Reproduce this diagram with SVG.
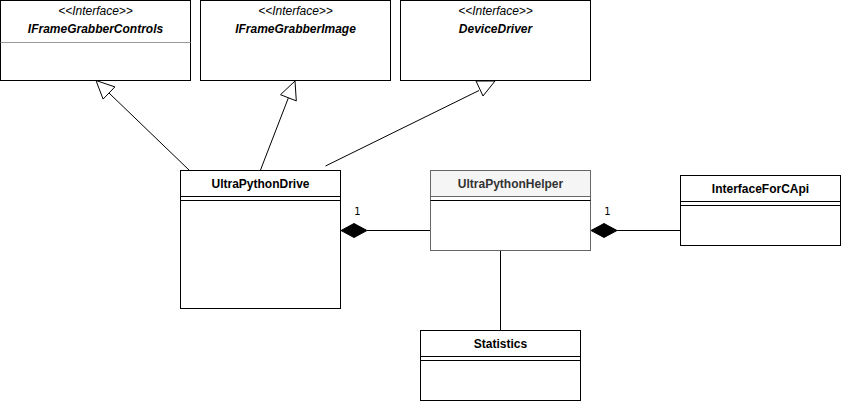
<svg xmlns="http://www.w3.org/2000/svg" width="841" height="401" viewBox="0 0 841 401">
<style>
.box{fill:#ffffff;stroke:#000000;stroke-width:1}
.ln{stroke:#000000;stroke-width:1;fill:none}
.t{font-family:"Liberation Sans",Arial,sans-serif;font-size:12px;text-anchor:middle;fill:#000000}
.b{font-weight:bold}
.i{font-style:italic}
.m{font-family:"DejaVu Sans","Liberation Sans",sans-serif;font-size:10px;text-anchor:middle;fill:#000000}
.open{fill:#ffffff;stroke:#000000;stroke-width:1}
.dia{fill:#000000;stroke:#000000;stroke-width:1}
</style>
<rect width="841" height="401" fill="#ffffff"/>
<g id="connectors">
  <line class="ln" x1="189" y1="170" x2="109" y2="93"/>
  <polygon class="open" points="96,80.5 114.9,86.9 103.1,99.1"/>
  <line class="ln" x1="260.5" y1="170" x2="288.4" y2="97.8"/>
  <polygon class="open" points="295,81 280.5,94.7 296.3,100.9"/>
  <line class="ln" x1="325.5" y1="166" x2="479" y2="90.5"/>
  <polygon class="open" points="476,81 495,81 483,96"/>
  <line class="ln" x1="367" y1="230.5" x2="430" y2="230.5"/>
  <polygon class="dia" points="341,230.5 354,223.5 367,230.5 354,237.5"/>
  <text class="m" x="357.5" y="215">1</text>
  <line class="ln" x1="617" y1="230.5" x2="680" y2="230.5"/>
  <polygon class="dia" points="591,230.5 604,223.5 617,230.5 604,237.5"/>
  <text class="m" x="607.5" y="215">1</text>
  <line class="ln" x1="500.5" y1="250.5" x2="500.5" y2="330.5"/>
</g>
<g id="IFrameGrabberControls">
  <rect class="box" x="0.5" y="0.5" width="190" height="80"/>
  <line x1="0.5" y1="42.5" x2="190.5" y2="42.5" stroke="#999999" stroke-width="1"/>
  <text class="t i" x="95.5" y="15">&lt;&lt;Interface&gt;&gt;</text>
  <text class="t b i" x="95.5" y="33">IFrameGrabberControls</text>
</g>
<g id="IFrameGrabberImage">
  <rect class="box" x="200.5" y="0.5" width="190" height="80"/>
  <text class="t i" x="295.5" y="15">&lt;&lt;Interface&gt;&gt;</text>
  <text class="t b i" x="295.5" y="33">IFrameGrabberImage</text>
</g>
<g id="DeviceDriver">
  <rect class="box" x="400.5" y="0.5" width="190" height="80"/>
  <text class="t i" x="495.5" y="15">&lt;&lt;Interface&gt;&gt;</text>
  <text class="t b i" x="495.5" y="33">DeviceDriver</text>
</g>
<g id="UltraPythonDrive">
  <rect class="box" x="180.5" y="170.5" width="160" height="138"/>
  <line class="ln" x1="180.5" y1="196.5" x2="340.5" y2="196.5"/>
  <line class="ln" x1="180.5" y1="200.5" x2="340.5" y2="200.5"/>
  <text class="t b" x="260.5" y="188">UltraPythonDrive</text>
</g>
<g id="UltraPythonHelper">
  <rect x="430.5" y="170.5" width="160" height="80" fill="#ffffff" stroke="#666666"/>
  <rect x="430.5" y="170.5" width="160" height="26" fill="#f5f5f5" stroke="#666666"/>
  <line class="ln" x1="430.5" y1="200.5" x2="590.5" y2="200.5"/>
  <text class="t b" x="510.5" y="188" style="fill:#333333">UltraPythonHelper</text>
</g>
<g id="InterfaceForCApi">
  <rect class="box" x="680.5" y="175.5" width="160" height="70"/>
  <line class="ln" x1="680.5" y1="201.5" x2="840.5" y2="201.5"/>
  <line class="ln" x1="680.5" y1="205.5" x2="840.5" y2="205.5"/>
  <text class="t b" x="760.5" y="193">InterfaceForCApi</text>
</g>
<g id="Statistics">
  <rect class="box" x="420.5" y="330.5" width="160" height="70"/>
  <line class="ln" x1="420.5" y1="356.5" x2="580.5" y2="356.5"/>
  <line class="ln" x1="420.5" y1="360.5" x2="580.5" y2="360.5"/>
  <text class="t b" x="500.5" y="348">Statistics</text>
</g>
</svg>
